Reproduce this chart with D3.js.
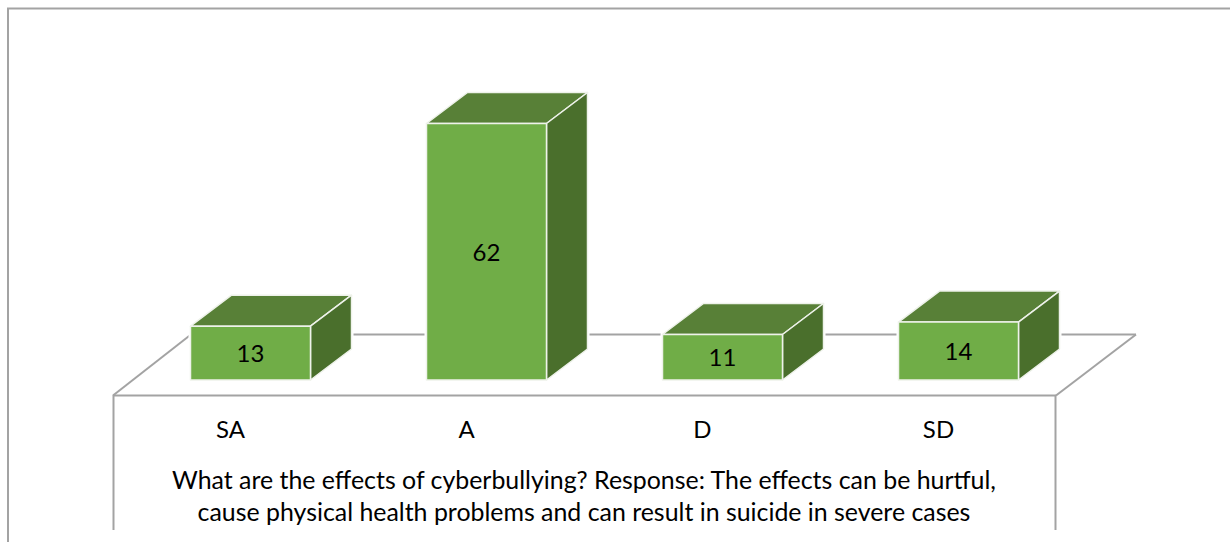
<!DOCTYPE html>
<html><head><meta charset="utf-8">
<script src="https://cdn.jsdelivr.net/npm/d3@7"></script>
<style>html,body{margin:0;padding:0;background:#fff}svg{display:block}text{font-family:Lato,"Open Sans",sans-serif;fill:#000}</style>
</head><body><svg id="c" width="1230" height="542"></svg>
<script>
const categories = ["SA","A","D","SD"];
const values = [13,62,11,14];
const titleLines = ["What are the effects of cyberbullying? Response: The effects can be hurtful,","cause physical health problems and can result in suicide in severe cases"];
const svg=d3.select("#c");
const gray="#a3a3a3";
const x=d3.scaleBand().domain(categories).range([132.5,1076.5]).paddingInner(116/236).paddingOuter(58/236);
const y=d3.scaleLinear().domain([0,62]).range([380,123.5]);
const dx=41,dy=-31;
const line=(a,b,c,d)=>svg.append("line").attr("x1",a).attr("y1",b).attr("x2",c).attr("y2",d).attr("stroke",gray).attr("stroke-width",2);
// outer frame
line(7,8.5,1230,8.5);line(8,8,8,542);
// floor
line(113,395.5,1056,395.5);line(113,395.5,191,334.5);line(191,334.5,1136,334.5);line(1136,334.5,1056,395.5);
line(113.5,395,113.5,530);line(1055.5,395,1055.5,530);
const g=svg.selectAll("g.bar").data(categories.map((c,i)=>({c,v:values[i]}))).join("g").attr("class","bar");
const outline=d=>{const a=x(d.c),b=a+x.bandwidth(),t=y(d.v),z=y(0);return [[a,t],[a+dx,t+dy],[b+dx,t+dy],[b+dx,z+dy],[b,z],[a,z]].join(" ")};
g.append("polygon").attr("fill","#fff").attr("stroke","#fff").attr("stroke-width",4).attr("points",outline);
const poly=(sel,fill,f)=>sel.append("polygon").attr("fill",fill).attr("stroke","#eef2ea").attr("stroke-width",1.5).attr("stroke-linejoin","round").attr("points",f);
poly(g,"#588037",d=>{const a=x(d.c),b=a+x.bandwidth(),t=y(d.v);return [[a,t],[b,t],[b+dx,t+dy],[a+dx,t+dy]].join(" ")});
poly(g,"#4a6f2c",d=>{const b=x(d.c)+x.bandwidth(),t=y(d.v),z=y(0);return [[b,t],[b+dx,t+dy],[b+dx,z+dy],[b,z]].join(" ")});
poly(g,"#70ad47",d=>{const a=x(d.c),b=a+x.bandwidth(),t=y(d.v),z=y(0);return [[a,t],[b,t],[b,z],[a,z]].join(" ")});
g.append("text").attr("x",d=>x(d.c)+x.bandwidth()/2).attr("y",d=>(y(d.v)+y(0))/2+9).attr("text-anchor","middle").attr("font-size",24).text(d=>d.v);
svg.selectAll("text.cat").data(categories).join("text").attr("class","cat").attr("x",d=>x(d)+x.bandwidth()/2-20).attr("y",438).attr("text-anchor","middle").attr("font-size",24).text(d=>d);
svg.selectAll("text.title").data(titleLines).join("text").attr("class","title").attr("x",584).attr("y",(d,i)=>489+i*32).attr("text-anchor","middle").attr("font-size",24.9).text(d=>d);
</script></body></html>
